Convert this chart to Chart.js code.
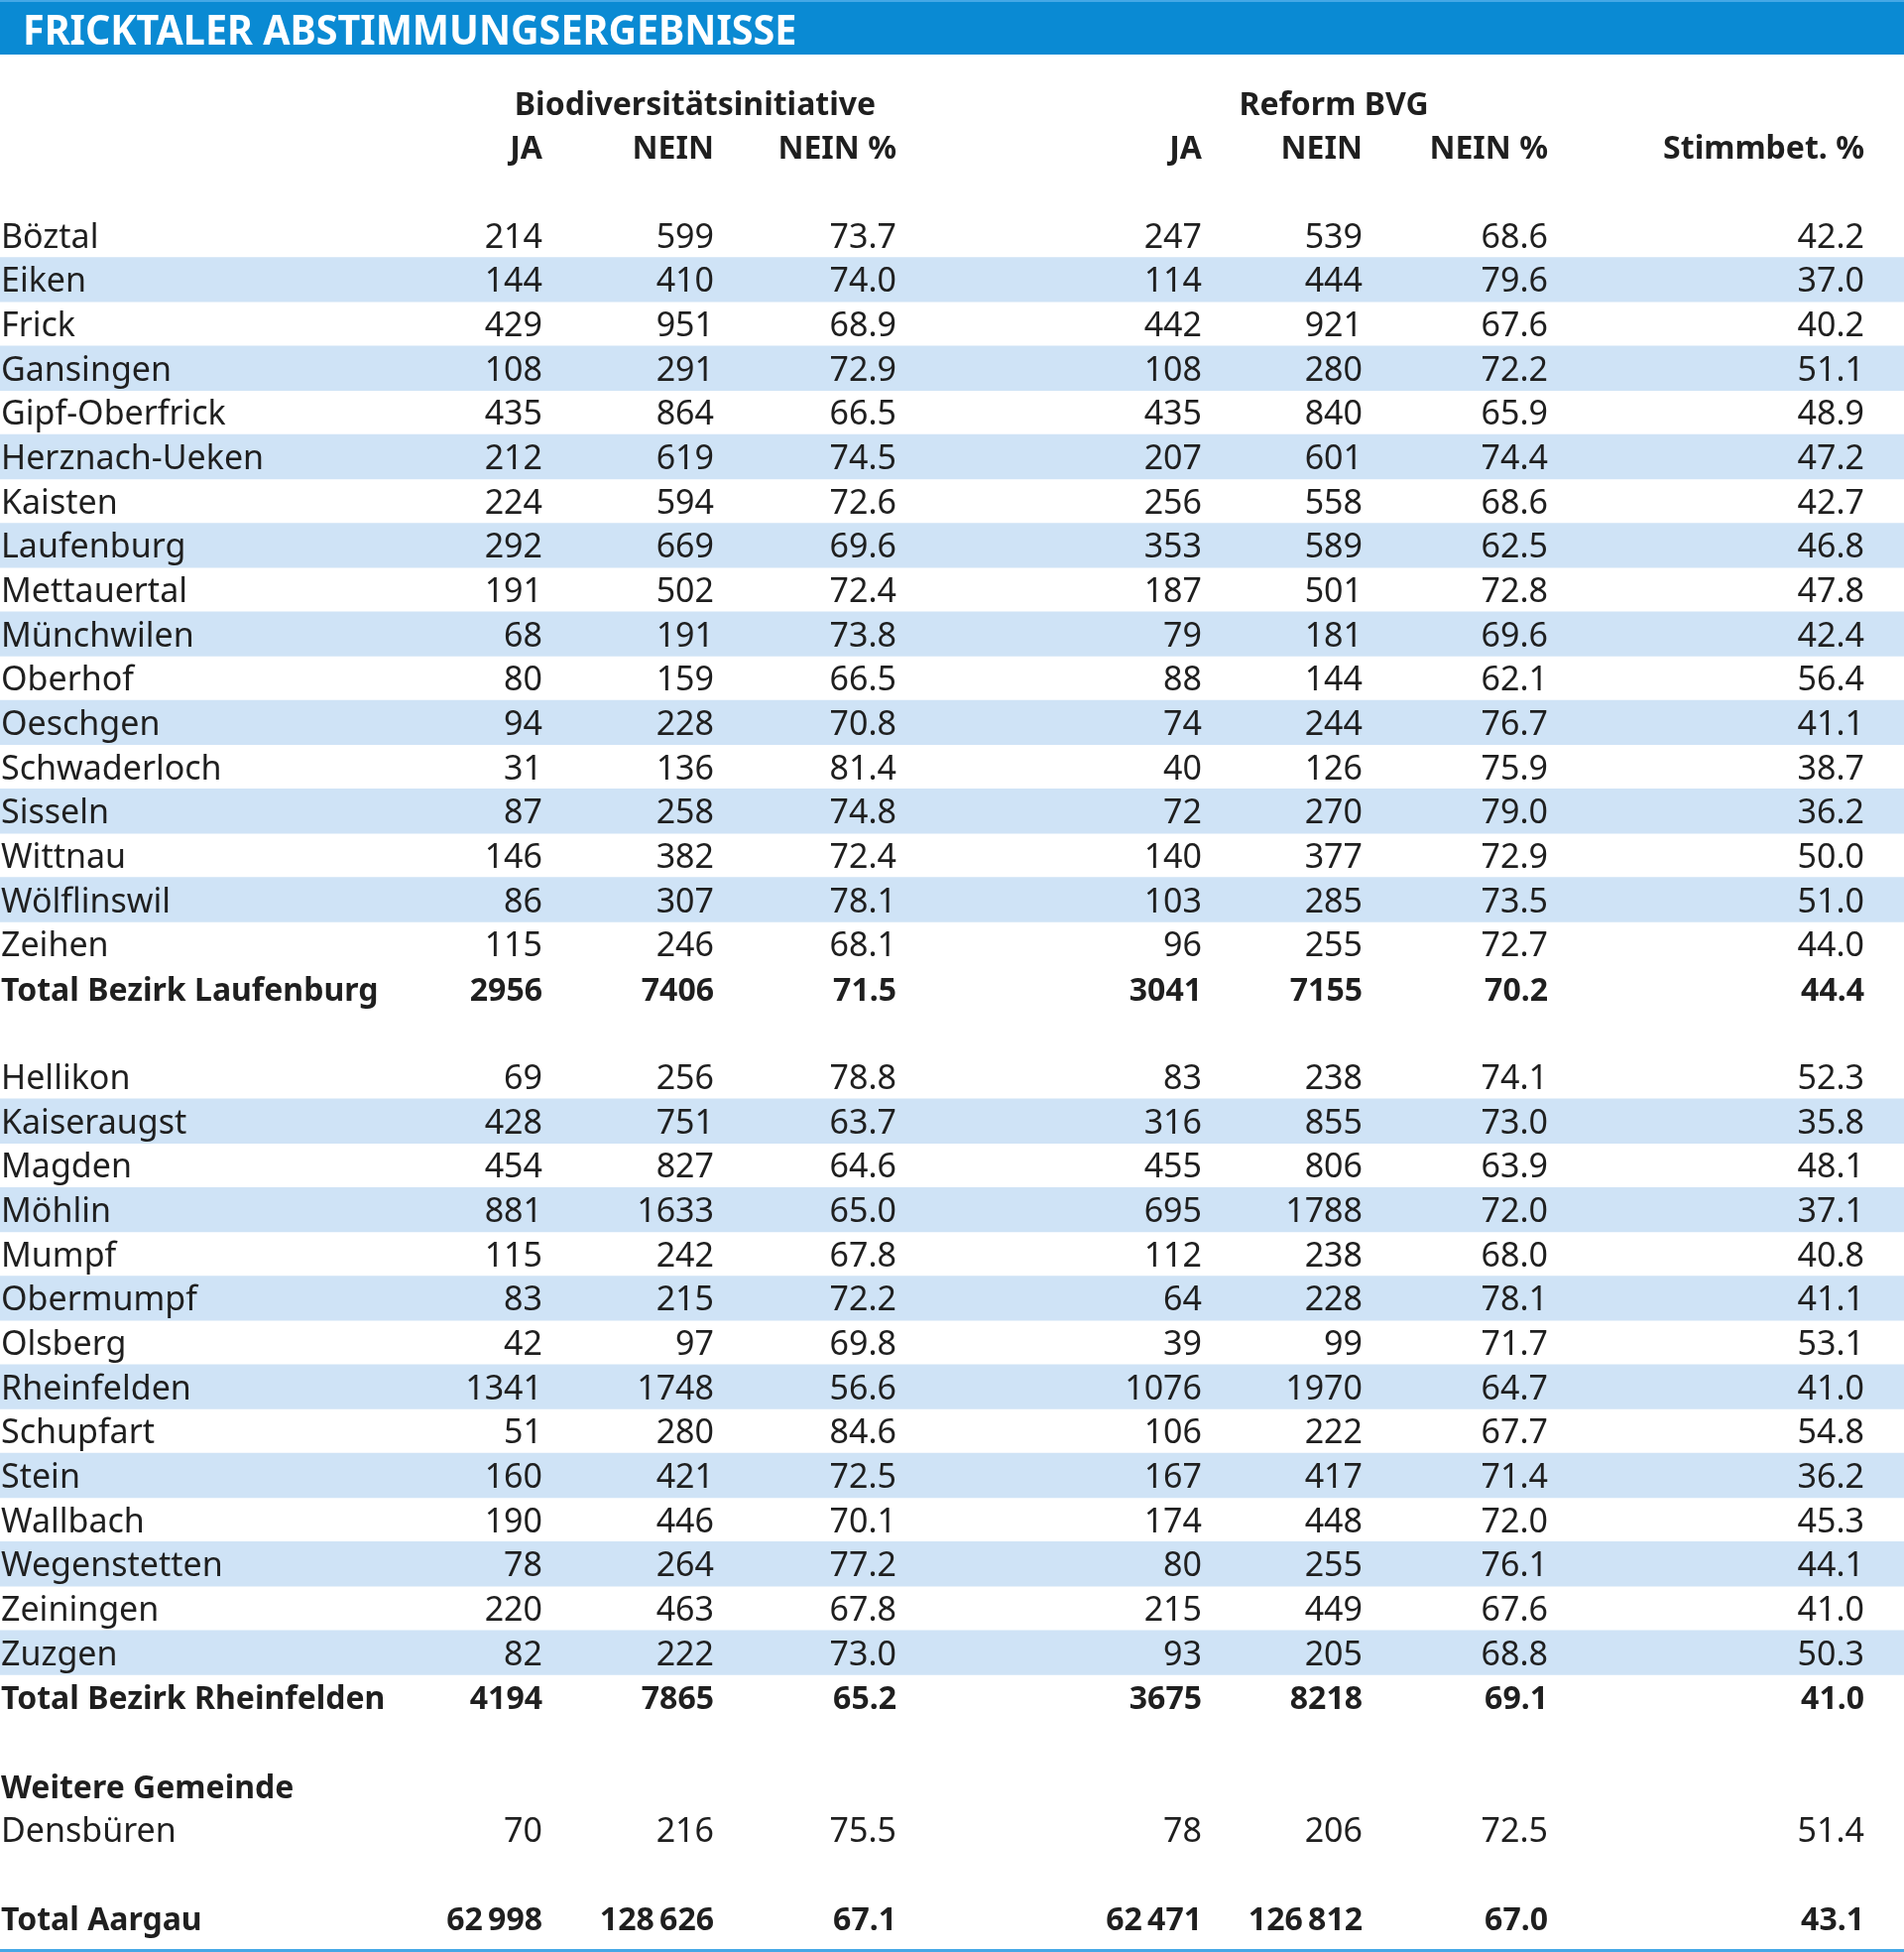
<!DOCTYPE html>
<html lang="de">
<head>
    <meta charset="UTF-8">
    <title>Fricktaler Abstimmungsergebnisse</title>
    <script src="https://cdn.jsdelivr.net/npm/chart.js"></script>
    <style>
        body { margin: 0; background: #fff; }
        canvas { display: block; }
    </style>
</head>
<body>
    <canvas id="table" width="1920" height="1968"></canvas>

    <script>
        const title = 'FRICKTALER ABSTIMMUNGSERGEBNISSE';
        const groupHeaders = ['Biodiversitätsinitiative', 'Reform BVG'];
        const columnHeaders = ['JA', 'NEIN', 'NEIN %', 'JA', 'NEIN', 'NEIN %', 'Stimmbet. %'];

        const laufenburgNames = ['Böztal', 'Eiken', 'Frick', 'Gansingen', 'Gipf-Oberfrick', 'Herznach-Ueken',
            'Kaisten', 'Laufenburg', 'Mettauertal', 'Münchwilen', 'Oberhof', 'Oeschgen', 'Schwaderloch',
            'Sisseln', 'Wittnau', 'Wölflinswil', 'Zeihen'];
        const rheinfeldenNames = ['Hellikon', 'Kaiseraugst', 'Magden', 'Möhlin', 'Mumpf', 'Obermumpf', 'Olsberg',
            'Rheinfelden', 'Schupfart', 'Stein', 'Wallbach', 'Wegenstetten', 'Zeiningen', 'Zuzgen'];
        const otherHeading = 'Weitere Gemeinde';
        const otherNames = ['Densbüren'];

        // one entry per municipality, in the order laufenburg, rheinfelden, other
        const bioJa = [214, 144, 429, 108, 435, 212, 224, 292, 191, 68, 80, 94, 31, 87, 146, 86, 115,
            69, 428, 454, 881, 115, 83, 42, 1341, 51, 160, 190, 78, 220, 82,
            70];
        const bioNein = [599, 410, 951, 291, 864, 619, 594, 669, 502, 191, 159, 228, 136, 258, 382, 307, 246,
            256, 751, 827, 1633, 242, 215, 97, 1748, 280, 421, 446, 264, 463, 222,
            216];
        const bioNeinPct = [73.7, 74.0, 68.9, 72.9, 66.5, 74.5, 72.6, 69.6, 72.4, 73.8, 66.5, 70.8, 81.4, 74.8, 72.4, 78.1, 68.1,
            78.8, 63.7, 64.6, 65.0, 67.8, 72.2, 69.8, 56.6, 84.6, 72.5, 70.1, 77.2, 67.8, 73.0,
            75.5];
        const bvgJa = [247, 114, 442, 108, 435, 207, 256, 353, 187, 79, 88, 74, 40, 72, 140, 103, 96,
            83, 316, 455, 695, 112, 64, 39, 1076, 106, 167, 174, 80, 215, 93,
            78];
        const bvgNein = [539, 444, 921, 280, 840, 601, 558, 589, 501, 181, 144, 244, 126, 270, 377, 285, 255,
            238, 855, 806, 1788, 238, 228, 99, 1970, 222, 417, 448, 255, 449, 205,
            206];
        const bvgNeinPct = [68.6, 79.6, 67.6, 72.2, 65.9, 74.4, 68.6, 62.5, 72.8, 69.6, 62.1, 76.7, 75.9, 79.0, 72.9, 73.5, 72.7,
            74.1, 73.0, 63.9, 72.0, 68.0, 78.1, 71.7, 64.7, 67.7, 71.4, 72.0, 76.1, 67.6, 68.8,
            72.5];
        const turnout = [42.2, 37.0, 40.2, 51.1, 48.9, 47.2, 42.7, 46.8, 47.8, 42.4, 56.4, 41.1, 38.7, 36.2, 50.0, 51.0, 44.0,
            52.3, 35.8, 48.1, 37.1, 40.8, 41.1, 53.1, 41.0, 54.8, 36.2, 45.3, 44.1, 41.0, 50.3,
            51.4];

        const totalNames = ['Total Bezirk Laufenburg', 'Total Bezirk Rheinfelden', 'Total Aargau'];
        const totalBioJa = [2956, 4194, 62998];
        const totalBioNein = [7406, 7865, 128626];
        const totalBioNeinPct = [71.5, 65.2, 67.1];
        const totalBvgJa = [3041, 3675, 62471];
        const totalBvgNein = [7155, 8218, 126812];
        const totalBvgNeinPct = [70.2, 69.1, 67.0];
        const totalTurnout = [44.4, 41.0, 43.1];

        // layout: x anchors on a 0..1920 scale
        const nameLeft = 1;
        const colRight = [547, 720, 904, 1212, 1374, 1561, 1880];
        const groupCenter = [701, 1345];
        const textColor = '#1f1f1f';
        const stripeColor = '#cfe3f6';
        const barBlue = '#0a8ad3';

        function fmtInt(v) {
            const s = String(v);
            return v >= 10000 ? s.slice(0, -3) + '\u2009' + s.slice(-3) : s;
        }
        function fmtPct(v) { return v.toFixed(1); }

        // build the row sequence of the table
        const rows = [];
        rows.push({ kind: 'group' });
        rows.push({ kind: 'colhead' });
        rows.push({ kind: 'blank' });
        let k = 0;
        function addMunicipalities(names) {
            names.forEach((name, j) => {
                rows.push({
                    kind: 'row', label: name, striped: j % 2 === 1,
                    cells: [fmtInt(bioJa[k]), fmtInt(bioNein[k]), fmtPct(bioNeinPct[k]),
                        fmtInt(bvgJa[k]), fmtInt(bvgNein[k]), fmtPct(bvgNeinPct[k]), fmtPct(turnout[k])]
                });
                k++;
            });
        }
        function addTotal(t) {
            rows.push({
                kind: 'total', label: totalNames[t],
                cells: [fmtInt(totalBioJa[t]), fmtInt(totalBioNein[t]), fmtPct(totalBioNeinPct[t]),
                    fmtInt(totalBvgJa[t]), fmtInt(totalBvgNein[t]), fmtPct(totalBvgNeinPct[t]), fmtPct(totalTurnout[t])]
            });
        }
        addMunicipalities(laufenburgNames);
        addTotal(0);
        rows.push({ kind: 'blank' });
        addMunicipalities(rheinfeldenNames);
        addTotal(1);
        rows.push({ kind: 'blank' });
        rows.push({ kind: 'section', label: otherHeading });
        addMunicipalities(otherNames);
        rows.push({ kind: 'blank' });
        addTotal(2);

        const regular = '34px "Noto Sans"';
        const bold = 'bold 32px "Noto Sans"';

        // draws title bar and all cell texts at scale positions
        const tablePlugin = {
            id: 'tableText',
            beforeDraw(chart) {
                const ctx = chart.ctx;
                ctx.save();
                ctx.fillStyle = barBlue;
                ctx.fillRect(0, 0, chart.width, 55);
                ctx.fillStyle = '#45a8e6';
                ctx.fillRect(0, 0, chart.width, 2);
                ctx.fillRect(0, chart.height - 3, chart.width, 3);
                // condensed-looking title
                ctx.fillStyle = '#fff';
                ctx.font = 'bold 42px "Noto Sans"';
                ctx.textAlign = 'left';
                ctx.textBaseline = 'alphabetic';
                ctx.translate(23, 45);
                ctx.scale(0.94, 1);
                ctx.fillText(title, 0, 0);
                ctx.restore();
            },
            afterDatasetsDraw(chart) {
                const { ctx, scales: { x, y } } = chart;
                ctx.save();
                ctx.fillStyle = textColor;
                ctx.textBaseline = 'alphabetic';
                rows.forEach((row, i) => {
                    const base = y.getPixelForValue(i) + 12.5;
                    if (row.kind === 'group') {
                        ctx.font = bold;
                        ctx.textAlign = 'center';
                        groupHeaders.forEach((h, g) => ctx.fillText(h, x.getPixelForValue(groupCenter[g]), base));
                    } else if (row.kind === 'colhead') {
                        ctx.font = bold;
                        ctx.textAlign = 'right';
                        columnHeaders.forEach((h, c) => ctx.fillText(h, x.getPixelForValue(colRight[c]), base));
                    } else if (row.kind === 'section') {
                        ctx.font = bold;
                        ctx.textAlign = 'left';
                        ctx.fillText(row.label, x.getPixelForValue(nameLeft), base);
                    } else if (row.kind === 'row' || row.kind === 'total') {
                        ctx.font = row.kind === 'total' ? bold : regular;
                        ctx.textAlign = 'left';
                        ctx.fillText(row.label, x.getPixelForValue(nameLeft), base);
                        ctx.textAlign = 'right';
                        row.cells.forEach((v, c) => ctx.fillText(v, x.getPixelForValue(colRight[c]), base));
                    }
                });
                ctx.restore();
            }
        };

        const ctx = document.getElementById('table').getContext('2d');
        const chart = new Chart(ctx, {
            type: 'bar',
            data: {
                labels: rows.map((r, i) => r.label || ('#' + i)),
                datasets: [{
                    label: 'stripes',
                    data: rows.map(r => r.striped ? [0, 1920] : null),
                    backgroundColor: stripeColor,
                    borderWidth: 0,
                    barPercentage: 1,
                    categoryPercentage: 1,
                }]
            },
            options: {
                indexAxis: 'y',
                responsive: false,
                animation: false,
                devicePixelRatio: 1,
                layout: { padding: { top: 81, bottom: 11.7, left: 0, right: 0 } },
                scales: {
                    x: { type: 'linear', min: 0, max: 1920, display: false },
                    y: { type: 'category', display: false }
                },
                plugins: {
                    legend: { display: false },
                    tooltip: { enabled: false },
                    title: { display: false }
                }
            },
            plugins: [tablePlugin]
        });
    </script>
</body>
</html>
